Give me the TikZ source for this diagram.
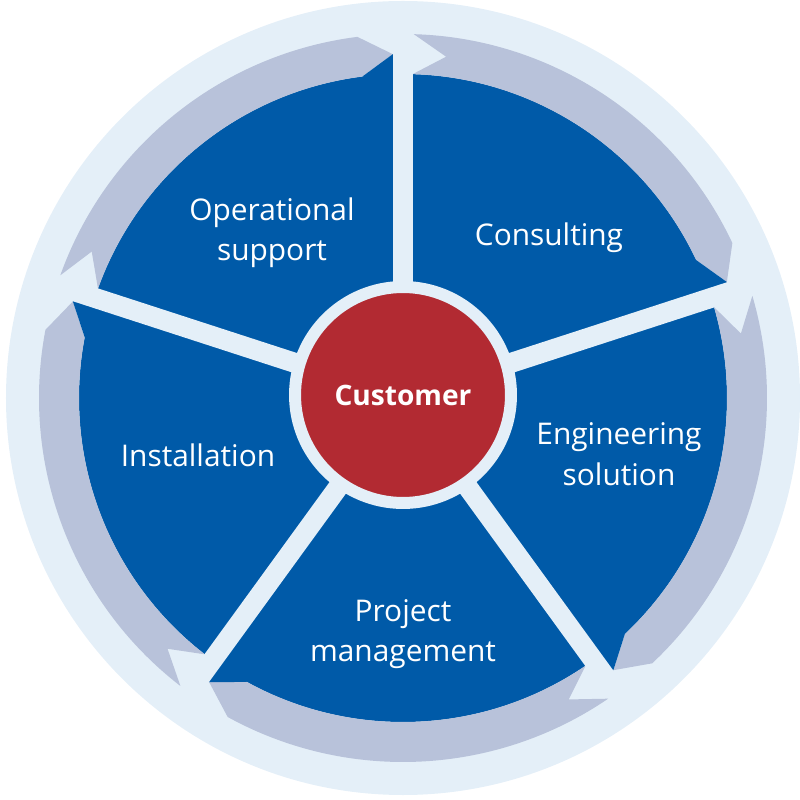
\documentclass[tikz,border=0pt]{standalone}
\usepackage{fontspec}
\setmainfont{Open Sans}
\usepackage{tikz}
\definecolor{ringlight}{RGB}{228,239,248}
\definecolor{ringgray}{RGB}{184,194,218}
\definecolor{segblue}{RGB}{0,90,168}
\definecolor{custred}{RGB}{178,42,50}
\tikzset{outerdisc/.style={fill=ringlight}}
\tikzset{segment/.style={fill=segblue}}
\tikzset{bandarrow/.style={fill=ringgray}}
\tikzset{spoke/.style={draw=ringlight, line width=0.4cm}}
\tikzset{seglabel/.style={text=white, align=center, font=\fontsize{17}{23}\selectfont}}
\tikzset{custbox/.style={circle, fill=custred, draw=ringlight, line width=0.24cm, minimum size=4.32cm, inner sep=0pt, text=white, font=\fontsize{16}{22}\selectfont\bfseries}}

\begin{document}
\begin{tikzpicture}[x=0.02cm, y=0.02cm]

\useasboundingbox (-403,-402) rectangle (397,398);

\fill[outerdisc] (0,0) circle[radius=397];
\fill[segment] (0,0) circle[radius=324];

\fill[bandarrow] (88.3:364) -- (82.8:344) -- (88.3:324) arc[start angle=88.3, end angle=25.2, radius=324]
-- (19.7:344) -- (25.2:364) arc[start angle=25.2, end angle=88.3, radius=364] -- cycle;
\fill[bandarrow] (16.3:364) -- (10.8:344) -- (16.3:324) arc[start angle=16.3, end angle=-46.8, radius=324]
-- (-52.3:344) -- (-46.8:364) arc[start angle=-46.8, end angle=16.3, radius=364] -- cycle;
\fill[bandarrow] (-55.7:364) -- (-61.2:344) -- (-55.7:324) arc[start angle=-55.7, end angle=-118.8, radius=324]
-- (-124.3:344) -- (-118.8:364) arc[start angle=-118.8, end angle=-55.7, radius=364] -- cycle;
\fill[bandarrow] (-127.7:364) -- (-133.2:344) -- (-127.7:324) arc[start angle=-127.7, end angle=-190.8, radius=324]
-- (-196.3:344) -- (-190.8:364) arc[start angle=-190.8, end angle=-127.7, radius=364] -- cycle;
\fill[bandarrow] (160.3:364) -- (154.8:344) -- (160.3:324) arc[start angle=160.3, end angle=97.2, radius=324]
-- (91.7:344) -- (97.2:364) arc[start angle=97.2, end angle=160.3, radius=364] -- cycle;

\fill[segment] (25.2:324) -- (19.7:344) -- (18:344) -- (18:315) -- cycle;
\fill[segment] (-46.8:324) -- (-52.3:344) -- (-54:344) -- (-54:315) -- cycle;
\fill[segment] (-118.8:324) -- (-124.3:344) -- (-126:344) -- (-126:315) -- cycle;
\fill[segment] (-190.8:324) -- (-196.3:344) -- (-198:344) -- (-198:315) -- cycle;
\fill[segment] (97.2:324) -- (91.7:344) -- (90:344) -- (90:315) -- cycle;

\coordinate (hub) at (0,0);
\coordinate (s1) at (90:385);
\coordinate (s2) at (18:385);
\coordinate (s3) at (-54:385);
\coordinate (s4) at (-126:385);
\coordinate (s5) at (162:385);

\draw[spoke] (hub) -- (s1);
\draw[spoke] (hub) -- (s2);
\draw[spoke] (hub) -- (s3);
\draw[spoke] (hub) -- (s4);
\draw[spoke] (hub) -- (s5);

\node[custbox] (cust) at (0,3) {Customer};

\node[seglabel] (oper) at (-131,165) {Operational\\support};
\node[seglabel] (consult) at (146,160) {Consulting};
\node[seglabel] (engin) at (216,-56) {Engineering\\solution};
\node[seglabel] (project) at (0,-236) {Project\\management};
\node[seglabel] (install) at (-205,-57) {Installation};

\end{tikzpicture}
\end{document}
